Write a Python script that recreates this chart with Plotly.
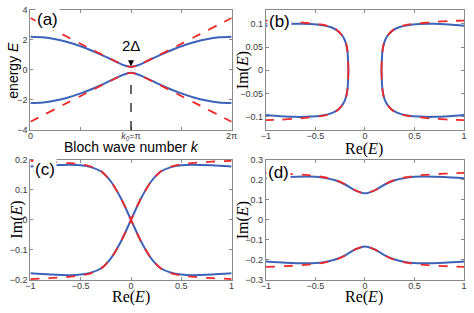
import numpy as np
import plotly.graph_objects as go

W, H = 474, 313
BLUE = "#3d63b8"
RED = "#ee2a2a"
FRAME = "#8a8a8a"

# ---------------- Panel (a) data ----------------
K_OVER_PI = [0, 0.125, 0.25, 0.375, 0.5, 0.625, 0.75, 0.875, 0.9375, 1.0,
             1.0625, 1.125, 1.25, 1.375, 1.5, 1.625, 1.75, 1.875, 2.0]
A_BLUE_UP = [2.21, 2.17, 2.04, 1.84, 1.57, 1.24, 0.87, 0.47, 0.29, 0.20,
             0.29, 0.47, 0.87, 1.24, 1.57, 1.84, 2.04, 2.17, 2.21]
A_RED_UP = [3.46, 3.03, 2.60, 2.17, 1.74, 1.31, 0.89, 0.48, 0.29, 0.20,
            0.29, 0.48, 0.89, 1.31, 1.74, 2.17, 2.60, 3.03, 3.46]
A_XTICKS = [0, 0.5, 1.0, 1.5, 2.0]   # in units of pi
A_XTICKTEXT = ["0", "", "<i>k</i><sub><i>0</i></sub>=π", "", "2π"]
A_YTICKS = [-4, -2, 0, 2, 4]

# ---------------- Panel (b) data (upper-right quadrant) ----------------
B_BLUE_RE = [0.167, 0.170, 0.176, 0.188, 0.21, 0.245, 0.29, 0.35, 0.43, 0.55, 0.70, 0.85, 1.0]
B_BLUE_IM = [0.0, 0.02, 0.04, 0.055, 0.068, 0.079, 0.087, 0.093, 0.097, 0.0995, 0.100, 0.0985, 0.096]
B_RED_RE = [0.167, 0.170, 0.176, 0.188, 0.21, 0.245, 0.29, 0.35, 0.43, 0.55, 0.70, 0.85, 1.0]
B_RED_IM = [0.0, 0.02, 0.04, 0.055, 0.068, 0.079, 0.088, 0.094, 0.098, 0.101, 0.104, 0.106, 0.107]
B_YTICKS = [-0.1, -0.05, 0, 0.05, 0.1]

# ---------------- Panel (c) data (left half of the descending curve) ----------------
C_RE = [-1.0, -0.8, -0.6, -0.5, -0.4, -0.3, -0.2, -0.1, 0.0]
C_BLUE_IM = [0.178, 0.182, 0.184, 0.182, 0.176, 0.162, 0.128, 0.072, 0.0]
C_RED_IM = [0.197, 0.194, 0.189, 0.185, 0.178, 0.163, 0.128, 0.072, 0.0]
C_YTICKS = [-0.2, -0.1, 0, 0.1, 0.2]

# ---------------- Panel (d) data (left half of upper curve) ----------------
D_RE = [-1.0, -0.8, -0.6, -0.5, -0.4, -0.3, -0.2, -0.1, 0.0]
D_BLUE_IM = [0.208, 0.214, 0.217, 0.216, 0.210, 0.198, 0.177, 0.148, 0.133]
D_RED_IM = [0.235, 0.231, 0.225, 0.220, 0.212, 0.200, 0.178, 0.148, 0.133]
D_YTICKS = [-0.3, -0.2, -0.1, 0, 0.1, 0.2, 0.3]

RE_TICKS = [-1, -0.5, 0, 0.5, 1]


def P(x, y):
    return x / W, 1 - y / H


fig = go.Figure()


def add(xs, ys, color, dash, ax):
    fig.add_trace(go.Scatter(
        x=xs, y=ys, mode="lines", xaxis="x" + ax, yaxis="y" + ax,
        line=dict(color=color, width=2 if dash == "solid" else 1.8, dash=dash,
                  shape="spline", smoothing=0.8),
        showlegend=False, hoverinfo="skip"))


# (a)
k = [v * np.pi for v in K_OVER_PI]
add(k, A_BLUE_UP, BLUE, "solid", "")
add(k, [-v for v in A_BLUE_UP], BLUE, "solid", "")
add(k, A_RED_UP, RED, "dash", "")
add(k, [-v for v in A_RED_UP], RED, "dash", "")

# (b) four quadrants from the read quadrant
for sx in (1, -1):
    for sy in (1, -1):
        add([sx * v for v in B_BLUE_RE], [sy * v for v in B_BLUE_IM], BLUE, "solid", "2")
for sx in (1, -1):
    for sy in (1, -1):
        add([sx * v for v in B_RED_RE], [sy * v for v in B_RED_IM], RED, "dash", "2")

# (c) two crossing curves
c_full_re = C_RE + [-v for v in C_RE[::-1]][1:]
c_blue = C_BLUE_IM + [-v for v in C_BLUE_IM[::-1]][1:]
c_red = C_RED_IM + [-v for v in C_RED_IM[::-1]][1:]
add(c_full_re, c_blue, BLUE, "solid", "3")
add(c_full_re, [-v for v in c_blue], BLUE, "solid", "3")
add(c_full_re, c_red, RED, "dash", "3")
add(c_full_re, [-v for v in c_red], RED, "dash", "3")

# (d) upper and lower curves
d_full_re = D_RE + [-v for v in D_RE[::-1]][1:]
d_blue = D_BLUE_IM + D_BLUE_IM[::-1][1:]
d_red = D_RED_IM + D_RED_IM[::-1][1:]
add(d_full_re, d_blue, BLUE, "solid", "4")
add(d_full_re, [-v for v in d_blue], BLUE, "solid", "4")
add(d_full_re, d_red, RED, "dash", "4")
add(d_full_re, [-v for v in d_red], RED, "dash", "4")

col1 = [26 / W, 232 / W]
col2 = [267 / W, 470 / W]
row1 = [1 - 129 / H, 1 - 5 / H]
row2 = [1 - 284 / H, 1 - 160 / H]

tickfont = dict(family="Liberation Sans, Arial", size=9, color="#3a3a3a")
common = dict(showline=True, linecolor=FRAME, linewidth=1, mirror="ticks",
              ticks="inside", ticklen=3, tickcolor=FRAME, showgrid=False,
              zeroline=False, tickfont=tickfont, fixedrange=True)
xcommon = dict(common, ticklabelstandoff=-3)

fig.update_layout(
    width=W, height=H, margin=dict(l=0, r=0, t=0, b=0),
    paper_bgcolor="white", plot_bgcolor="white",
    xaxis=dict(domain=col1, anchor="y", range=[0, 2 * np.pi],
               tickvals=[v * np.pi for v in A_XTICKS], ticktext=A_XTICKTEXT, **xcommon),
    yaxis=dict(domain=row1, anchor="x", range=[-4, 4], tickvals=A_YTICKS, **common),
    xaxis2=dict(domain=col2, anchor="y2", range=[-1, 1], tickvals=RE_TICKS, **xcommon),
    yaxis2=dict(domain=row1, anchor="x2", range=[-0.128, 0.13], tickvals=B_YTICKS, **common),
    xaxis3=dict(domain=col1, anchor="y3", range=[-1, 1], tickvals=RE_TICKS, **xcommon),
    yaxis3=dict(domain=row2, anchor="x3", range=[-0.2, 0.2], tickvals=C_YTICKS, **common),
    xaxis4=dict(domain=col2, anchor="y4", range=[-1, 1], tickvals=RE_TICKS, **xcommon),
    yaxis4=dict(domain=row2, anchor="x4", range=[-0.3, 0.3], tickvals=D_YTICKS, **common),
)

# dashed vertical line in (a)
fig.add_shape(type="line", xref="x", yref="y", x0=np.pi, x1=np.pi, y0=-4, y1=-1.0,
              line=dict(color="black", width=1.2, dash="dash"))

anns = []
# arrows in (a)
anns.append(dict(xref="x", yref="y", axref="x", ayref="y", x=np.pi, y=0.24,
                 ax=np.pi, ay=1.05, showarrow=True, arrowhead=2, arrowsize=1,
                 arrowwidth=1.2, arrowcolor="black", text=" "))
anns.append(dict(xref="x", yref="y", axref="x", ayref="y", x=np.pi, y=-0.24,
                 ax=np.pi, ay=-1.0, showarrow=True, arrowhead=2, arrowsize=1,
                 arrowwidth=1.2, arrowcolor="black", text=" "))
anns.append(dict(xref="x", yref="y", x=np.pi, y=1.6, showarrow=False, text="2Δ",
                 font=dict(family="Liberation Sans, Arial", size=15, color="black")))

sans = dict(family="Liberation Sans, Arial", size=14, color="black")
serif = dict(family="Liberation Serif, Times New Roman", size=16, color="black")


def title(text, x, y, font, angle=0):
    px, py = P(x, y)
    anns.append(dict(xref="paper", yref="paper", x=px, y=py, text=text, showarrow=False,
                     textangle=angle, font=font, xanchor="center", yanchor="middle"))


title("Bloch wave number <i>k</i>", 129, 147, sans)
title("energy <i>E</i>", 8, 67, sans, -90)
title("Re(<i>E</i>)", 368, 149, serif)
title("Im(<i>E</i>)", 244, 67, serif, -90)
title("Re(<i>E</i>)", 129, 302, serif)
title("Im(<i>E</i>)", 12, 222, serif, -90)
title("Re(<i>E</i>)", 368, 302, serif)
title("Im(<i>E</i>)", 244, 222, serif, -90)

labfont = dict(family="Liberation Sans, Arial", size=17, color="black")
for text, x, y in [("(a)", 44, 15), ("(b)", 281, 17), ("(c)", 41, 170), ("(d)", 280, 173)]:
    px, py = P(x, y)
    anns.append(dict(xref="paper", yref="paper", x=px, y=py, text=text, showarrow=False,
                     font=labfont, bgcolor="white", xanchor="center", yanchor="middle",
                     borderpad=1))

fig.update_layout(annotations=anns)
fig.write_html("out.html", config={"displayModeBar": False},
               post_script="document.body.style.margin='0';document.body.style.overflow='hidden';")
